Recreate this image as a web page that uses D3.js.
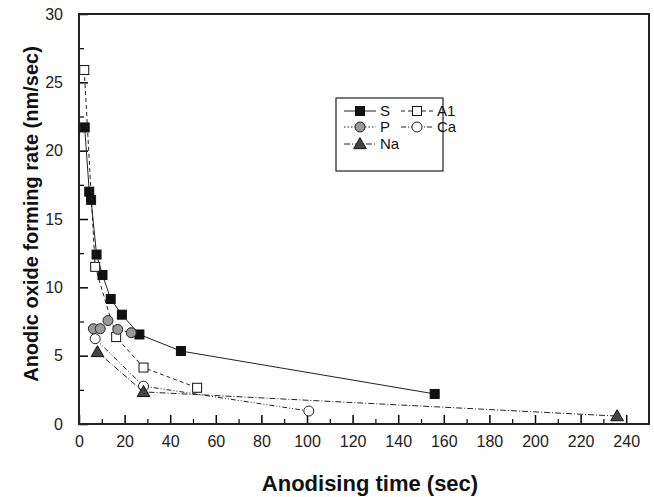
<!DOCTYPE html>
<html>
<head>
<meta charset="utf-8">
<script src="https://cdn.jsdelivr.net/npm/d3@7"></script>
<style>
  body { margin: 0; background: #fff; }
  svg { font-family: "Liberation Sans", Arial, sans-serif; }
</style>
</head>
<body>
<svg id="chart"></svg>
<script>
// values
const sTime = [2.5, 4.5, 5.3, 7.7, 10.3, 13.9, 18.8, 26.5, 44.7, 156];
const sRate = [21.7, 17.0, 16.4, 12.4, 10.9, 9.15, 8.0, 6.55, 5.34, 2.2];
const a1Time = [2.3, 7.1, 16.3, 28.3, 51.8];
const a1Rate = [25.9, 11.5, 6.36, 4.13, 2.65];
const pTime = [6.3, 9.3, 12.7, 17.0, 22.9];
const pRate = [6.97, 6.97, 7.57, 6.92, 6.68];
const caTime = [7.1, 28.3, 100.8];
const caRate = [6.24, 2.77, 0.95];
const naTime = [8.1, 28.3, 236];
const naRate = [5.27, 2.35, 0.58];

const xTicks = d3.range(0, 241, 20);
const yTicks = d3.range(0, 31, 5);

const series = [
  { name: 'S', x: sTime, y: sRate, dash: null, marker: 'square', fill: '#111' },
  { name: 'A1', x: a1Time, y: a1Rate, dash: '4,3', marker: 'square', fill: '#fff' },
  { name: 'P', x: pTime, y: pRate, dash: '1.5,2', marker: 'circle', fill: '#999' },
  { name: 'Ca', x: caTime, y: caRate, dash: '5,2,1,2,1,2', marker: 'circle', fill: '#fff' },
  { name: 'Na', x: naTime, y: naRate, dash: '6,2,1,2', marker: 'triangle', fill: '#444' }
];

const width = 654;
const height = 497;
const marginLeft = 79;
const marginRight = 5;
const marginTop = 14;
const marginBottom = 73;

const svg = d3.select('#chart')
  .attr('width', width)
  .attr('height', height)
  .attr('viewBox', [0, 0, width, height]);

const x = d3.scaleLinear().domain([0, 250]).range([marginLeft, width - marginRight]);
const y = d3.scaleLinear().domain([0, 30]).range([height - marginBottom, marginTop]);

// ticks point into the plot
const xAxis = svg.append('g')
  .attr('transform', `translate(0,${y(0)})`)
  .call(d3.axisBottom(x).tickValues(xTicks).tickSize(-9).tickPadding(12).tickSizeOuter(0));
xAxis.selectAll('.tick line').attr('stroke-width', 1.5);
xAxis.select('.domain').remove();
xAxis.selectAll('text').attr('font-size', 16).attr('fill', '#222');

svg.append('g')
  .attr('transform', `translate(0,${y(0)})`)
  .call(d3.axisBottom(x).tickValues(d3.range(10, 250, 20)).tickSize(-5).tickFormat(''))
  .call(g => g.select('.domain').remove())
  .selectAll('.tick line').attr('stroke-width', 1.2);

const yAxis = svg.append('g')
  .attr('transform', `translate(${x(0)},0)`)
  .call(d3.axisLeft(y).tickValues(yTicks).tickSize(-9).tickPadding(16).tickSizeOuter(0));
yAxis.selectAll('.tick line').attr('stroke-width', 1.5);
yAxis.select('.domain').remove();
yAxis.selectAll('text').attr('font-size', 16).attr('fill', '#222');

svg.append('g')
  .attr('transform', `translate(${x(0)},0)`)
  .call(d3.axisLeft(y).tickValues(d3.range(2.5, 30, 5)).tickSize(-5).tickFormat(''))
  .call(g => g.select('.domain').remove())
  .selectAll('.tick line').attr('stroke-width', 1.2);

// frame
svg.append('rect')
  .attr('x', x(0)).attr('y', y(30))
  .attr('width', x(250) - x(0)).attr('height', y(0) - y(30))
  .attr('fill', 'none').attr('stroke', '#222').attr('stroke-width', 2);

const line = d3.line().x(d => x(d[0])).y(d => y(d[1]));

function drawMarker(g, type, fill, cx, cy) {
  if (type === 'square') {
    g.append('rect').attr('x', cx - 4.5).attr('y', cy - 4.5).attr('width', 9).attr('height', 9)
      .attr('fill', fill).attr('stroke', '#111').attr('stroke-width', 1);
  } else if (type === 'circle') {
    g.append('circle').attr('cx', cx).attr('cy', cy).attr('r', 5)
      .attr('fill', fill).attr('stroke', '#222').attr('stroke-width', 1);
  } else {
    g.append('path').attr('d', d3.symbol(d3.symbolTriangle, 70)())
      .attr('transform', `translate(${cx},${cy + 1})`)
      .attr('fill', fill).attr('stroke', '#111').attr('stroke-width', 1);
  }
}

series.forEach(s => {
  const pts = d3.zip(s.x, s.y);
  svg.append('path')
    .attr('d', line(pts))
    .attr('fill', 'none')
    .attr('stroke', '#222')
    .attr('stroke-width', 1)
    .attr('stroke-dasharray', s.dash);
  const g = svg.append('g');
  pts.forEach(p => drawMarker(g, s.marker, s.fill, x(p[0]), y(p[1])));
});

// legend
const legend = svg.append('g');
legend.append('rect')
  .attr('x', 336).attr('y', 98).attr('width', 107).attr('height', 73)
  .attr('fill', '#fff').attr('stroke', '#222').attr('stroke-width', 1.2);

const legendPos = [[344, 111], [401, 111], [344, 127], [401, 127], [344, 144]];
series.forEach((s, i) => {
  const [lx, ly] = legendPos[i];
  const lg = legend.append('g');
  lg.append('line').attr('x1', lx).attr('x2', lx + 32).attr('y1', ly).attr('y2', ly)
    .attr('stroke', '#222').attr('stroke-width', 1).attr('stroke-dasharray', s.dash);
  drawMarker(lg, s.marker, s.fill, lx + 16, ly);
  lg.append('text').attr('x', lx + 36).attr('y', ly + 5)
    .attr('font-size', 15).attr('fill', '#111').text(s.name);
});

// axis titles
svg.append('text')
  .attr('x', (x(0) + x(250)) / 2 + 6).attr('y', 491)
  .attr('text-anchor', 'middle').attr('font-size', 22).attr('font-weight', 'bold')
  .attr('fill', '#111').text('Anodising time (sec)');

svg.append('text')
  .attr('transform', `translate(31,214) rotate(-90)`)
  .attr('text-anchor', 'middle').attr('dy', '0.35em').attr('font-size', 20).attr('font-weight', 'bold')
  .attr('fill', '#111').text('Anodic oxide forming rate (nm/sec)');
</script>
</body>
</html>
